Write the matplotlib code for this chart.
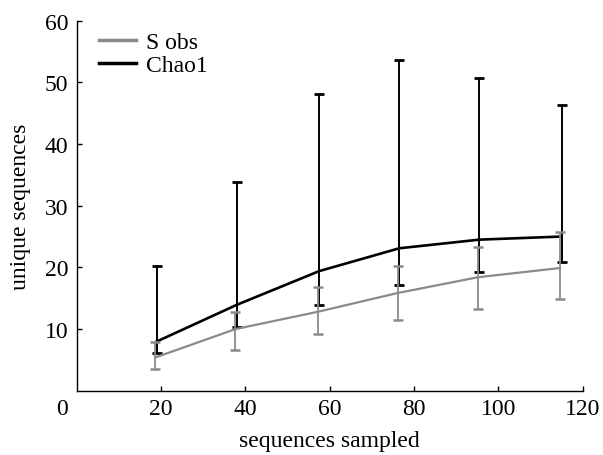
import matplotlib
matplotlib.use("Agg")
import matplotlib.pyplot as plt
import matplotlib.transforms as mtransforms
from matplotlib.lines import Line2D
import numpy as np

# Data
sampled = [19, 38, 57.5, 76.5, 95.5, 115]
sobs = [5.4, 10.0, 12.8, 15.85, 18.4, 19.9]
sobs_low = [3.6, 6.6, 9.25, 11.4, 13.3, 14.8]
sobs_high = [7.9, 12.7, 16.9, 20.3, 23.3, 25.7]
chao1 = [8.0, 13.95, 19.4, 23.1, 24.5, 25.0]
chao1_low = [6.1, 10.4, 13.95, 17.1, 19.2, 20.9]
chao1_high = [20.2, 33.8, 48.1, 53.6, 50.7, 46.4]
xticks = [20, 40, 60, 80, 100, 120]
yticks = [10, 20, 30, 40, 50, 60]
series_names = ['S obs', 'Chao1']

FS = 17
plt.rcParams['font.family'] = ['Liberation Serif', 'DejaVu Serif']
plt.rcParams['font.size'] = FS

fig = plt.figure(figsize=(6.03, 4.56), dpi=100)
ax = fig.add_axes([0.1274, 0.1408, 0.9663 - 0.1274, 0.9526 - 0.1408])

gray = '#8a8a8a'
x = np.array(sampled)

c = np.array(chao1)
cerr = [c - np.array(chao1_low), np.array(chao1_high) - c]
ax.errorbar(x, c, yerr=cerr, color='black', lw=1.9, elinewidth=1.4,
            capsize=3.4, capthick=2.0, zorder=3)

s = np.array(sobs)
serr = [s - np.array(sobs_low), np.array(sobs_high) - s]
off = mtransforms.offset_copy(ax.transData, fig=fig, x=-1.6, y=0, units='dots')
eb = ax.errorbar(x, s, yerr=serr, color=gray, lw=1.6, elinewidth=1.3,
                 capsize=3.6, capthick=1.8, zorder=4)
for artist in [eb.lines[0]] + list(eb.lines[1]) + list(eb.lines[2]):
    artist.set_transform(off)

ax.set_xlim(0, 120)
ax.set_ylim(0, 60)
ax.set_xticks(xticks)
ax.set_yticks(yticks)
ax.spines['top'].set_visible(False)
ax.spines['right'].set_visible(False)
for sp in ['left', 'bottom']:
    ax.spines[sp].set_linewidth(1.0)
ax.tick_params(direction='in', length=3.5, width=1.0, labelsize=FS)
ax.tick_params(axis='y', pad=6)
ax.tick_params(axis='x', pad=5)

# shared origin label
ax.annotate('0', xy=(0, 0), xycoords='axes fraction', xytext=(-10.5, -5),
            textcoords='offset points', ha='center', va='top', fontsize=FS)

ax.set_xlabel('sequences sampled', fontsize=FS, labelpad=8)
ax.set_ylabel('unique sequences', fontsize=FS)
ax.yaxis.set_label_coords(-0.09, 0.5)

handles = [Line2D([], [], color=gray, lw=2.5), Line2D([], [], color='black', lw=2.5)]
ax.legend(handles, series_names,
          loc='upper left', bbox_to_anchor=(0.015, 1.008), frameon=False,
          handlelength=1.6, handletextpad=0.4, labelspacing=0.05,
          fontsize=FS, borderaxespad=0.2)

fig.savefig('out.png', dpi=100)
